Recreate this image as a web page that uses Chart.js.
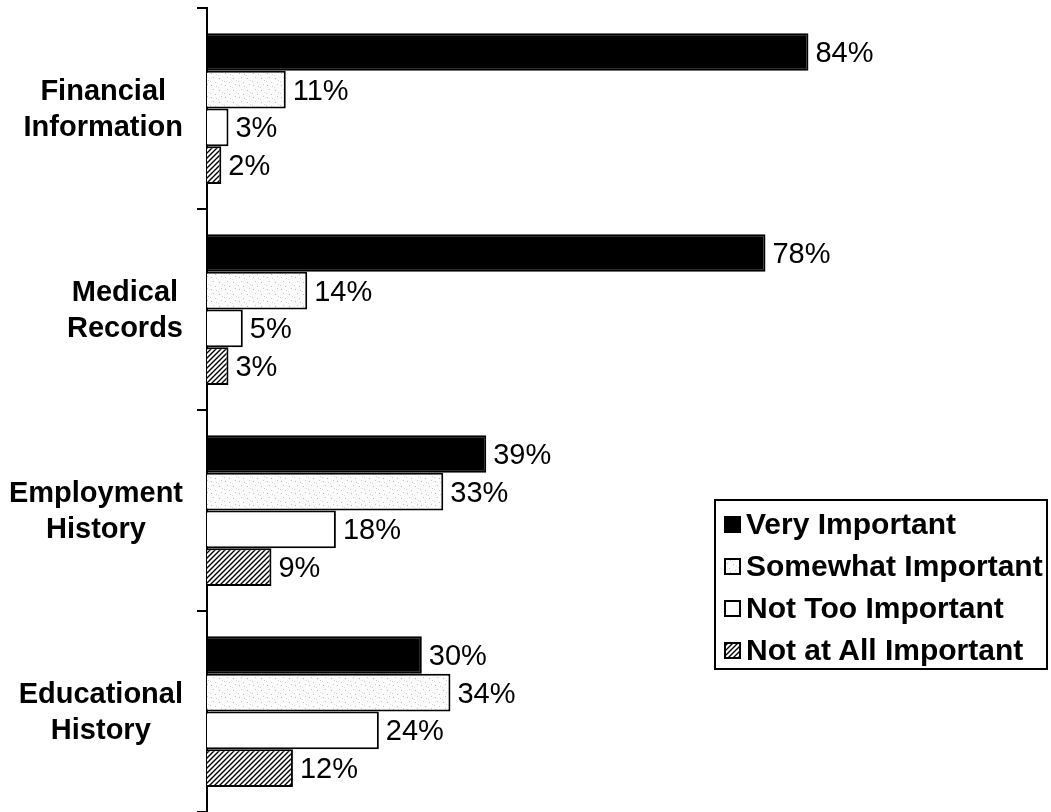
<!DOCTYPE html>
<html>
<head>
<meta charset="utf-8">
<script src="https://cdn.jsdelivr.net/npm/chart.js@4"></script>
<style>
  body { margin: 0; background: #fff; }
  #wrap { position: relative; width: 1051px; height: 812px; }
  #legend {
    position: absolute; left: 714px; top: 499px; width: 330px; height: 167px;
    border: 2px solid #000; background: #fff;
    font: bold 30px "Liberation Sans", Arial, sans-serif; color: #000;
  }
  #legend .item { position: absolute; left: 8px; height: 32px; display: flex; align-items: center; white-space: nowrap; }
  #legend canvas { margin-right: 5px; }
</style>
</head>
<body>
<div id="wrap">
  <canvas id="chart" width="1051" height="812"></canvas>
  <div id="legend"></div>
</div>
<script>
const categories = [
  ['Financial', 'Information'],
  ['Medical', 'Records'],
  ['Employment', 'History'],
  ['Educational', 'History']
];
const seriesNames = ['Very Important', 'Somewhat Important', 'Not Too Important', 'Not at All Important'];
const veryImportant = [84, 78, 39, 30];
const somewhatImportant = [11, 14, 33, 34];
const notTooImportant = [3, 5, 18, 24];
const notAtAllImportant = [2, 3, 9, 12];

const FONT = '"Liberation Sans", Arial, sans-serif';

// light speckled fill
function speckle() {
  const c = document.createElement('canvas');
  c.width = 14; c.height = 12;
  const g = c.getContext('2d');
  g.fillStyle = '#fcfcfc';
  g.fillRect(0, 0, 14, 12);
  const dots = [[1, 1, '#b8b8b8'], [6, 2, '#d0d0d0'], [11, 0, '#c4c4c4'], [3, 5, '#c8c8c8'],
                [9, 6, '#b4b4b4'], [12, 8, '#d4d4d4'], [0, 9, '#cccccc'], [5, 10, '#bcbcbc'], [8, 3, '#dddddd']];
  dots.forEach(([x, y, col]) => { g.fillStyle = col; g.fillRect(x, y, 1, 1); });
  return g.createPattern(c, 'repeat');
}

// diagonal "////" hatching
function hatch() {
  const c = document.createElement('canvas');
  c.width = 5; c.height = 5;
  const g = c.getContext('2d');
  g.fillStyle = '#fff';
  g.fillRect(0, 0, 5, 5);
  g.strokeStyle = '#000';
  g.lineWidth = 1.4;
  g.beginPath();
  g.moveTo(-1, 6); g.lineTo(6, -1);
  g.moveTo(-1, 1); g.lineTo(1, -1);
  g.moveTo(4, 6); g.lineTo(6, 4);
  g.stroke();
  return g.createPattern(c, 'repeat');
}

const fills = ['#000', speckle(), '#fff', hatch()];
const values = [veryImportant, somewhatImportant, notTooImportant, notAtAllImportant];

// value labels at the end of each bar
const barValues = {
  id: 'barValues',
  afterDatasetsDraw(chart) {
    const ctx = chart.ctx;
    ctx.save();
    ctx.font = '29px ' + FONT;
    ctx.fillStyle = '#000';
    ctx.textAlign = 'left';
    ctx.textBaseline = 'middle';
    chart.data.datasets.forEach((ds, di) => {
      chart.getDatasetMeta(di).data.forEach((bar, i) => {
        ctx.fillText(ds.data[i] + '%', bar.x + 7, bar.y + 2);
      });
    });
    ctx.restore();
  }
};

// category names, each block centred on itself and right-aligned to the axis
const categoryNames = {
  id: 'categoryNames',
  afterDraw(chart) {
    const ctx = chart.ctx;
    const y = chart.scales.y;
    ctx.save();
    ctx.font = 'bold 29px ' + FONT;
    ctx.fillStyle = '#000';
    ctx.textAlign = 'center';
    ctx.textBaseline = 'middle';
    const lineH = 36;
    categories.forEach((lines, i) => {
      const w = Math.max(...lines.map(l => ctx.measureText(l).width));
      const cx = 183 - w / 2;
      const cy = y.getPixelForTick(i) + 1;
      lines.forEach((l, k) => {
        ctx.fillText(l, cx, cy + (k - (lines.length - 1) / 2) * lineH);
      });
    });
    ctx.restore();
  }
};

const chart = new Chart(document.getElementById('chart'), {
  type: 'bar',
  data: {
    labels: categories,
    datasets: seriesNames.map((name, i) => ({
      label: name,
      data: values[i],
      backgroundColor: fills[i],
      borderColor: '#000',
      borderWidth: 2,
      categoryPercentage: 0.75,
      barPercentage: 1
    }))
  },
  options: {
    indexAxis: 'y',
    responsive: false,
    devicePixelRatio: 1,
    animation: false,
    layout: { padding: { left: 0, top: 8, right: 128, bottom: 0 } },
    plugins: { legend: { display: false }, tooltip: { enabled: false } },
    scales: {
      x: { display: false, min: 0, max: 100 },
      y: {
        ticks: { display: false },
        grid: { drawOnChartArea: false, drawTicks: true, tickLength: 10, color: '#000', lineWidth: 2, offset: true },
        border: { display: true, color: '#000', width: 2 },
        afterFit(scale) { scale.width = 207; }
      }
    }
  },
  plugins: [barValues, categoryNames]
});

// legend box built from the chart's datasets
const legend = document.getElementById('legend');
chart.data.datasets.forEach((ds, i) => {
  const item = document.createElement('div');
  item.className = 'item';
  item.style.top = (7 + i * 42) + 'px';
  const sw = document.createElement('canvas');
  sw.width = 17; sw.height = 17;
  const g = sw.getContext('2d');
  g.fillStyle = ds.backgroundColor;
  g.fillRect(0, 0, 17, 17);
  g.strokeStyle = '#000';
  g.lineWidth = 2;
  g.strokeRect(1, 1, 15, 15);
  item.appendChild(sw);
  const t = document.createElement('span');
  t.textContent = ds.label;
  item.appendChild(t);
  legend.appendChild(item);
});
</script>
</body>
</html>
